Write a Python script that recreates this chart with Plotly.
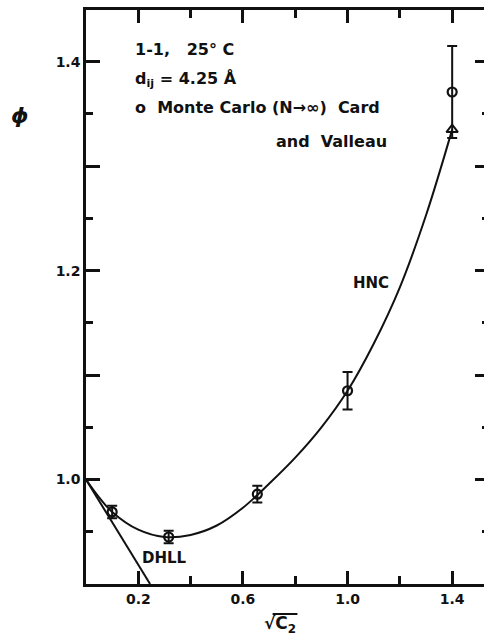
import plotly.graph_objects as go

# HNC theory curve
hnc_x = [0.0, 0.05, 0.1, 0.2, 0.3, 0.4, 0.5, 0.6, 0.7, 0.8, 0.9, 1.0, 1.1, 1.2, 1.3, 1.4]
hnc_y = [1.0, 0.983, 0.969, 0.952, 0.945, 0.947, 0.956, 0.973, 0.996, 1.021, 1.050, 1.085, 1.130, 1.184, 1.253, 1.335]

# DHLL limiting law line
dhll_x = [0.0, 0.245]
dhll_y = [1.0, 0.9]

# Monte Carlo (N -> infinity), Card and Valleau
mc_x = [0.1, 0.316, 0.655, 1.0, 1.4]
mc_y = [0.969, 0.945, 0.986, 1.085, 1.371]
mc_err = [0.006, 0.006, 0.008, 0.018, 0.044]

# HNC end marker
tri_x = [1.4]
tri_y = [1.335]

x_major = [0.2, 0.6, 1.0, 1.4]
x_major_text = ["0.2", "0.6", "1.0", "1.4"]
x_minor = [0.4, 0.8, 1.2]
y_major = [1.0, 1.1, 1.2, 1.3, 1.4]
y_major_text = ["1.0", "", "1.2", "", "1.4"]
y_minor = [0.95, 1.05, 1.15, 1.25, 1.35]

FONT = "DejaVu Sans"
ink = "#111111"

W, H = 492, 635
ML, MR, MT, MB = 86, 0, 10, 51

fig = go.Figure()
fig.add_trace(go.Scatter(x=hnc_x, y=hnc_y, mode="lines", line=dict(color=ink, width=2, shape="spline", smoothing=1.0),
                         showlegend=False, hoverinfo="skip"))
fig.add_trace(go.Scatter(x=dhll_x, y=dhll_y, mode="lines", line=dict(color=ink, width=2),
                         showlegend=False, hoverinfo="skip"))
fig.add_trace(go.Scatter(x=mc_x, y=mc_y, mode="markers",
                         marker=dict(symbol="circle-open", size=9, color=ink, line=dict(width=2.2, color=ink)),
                         error_y=dict(type="data", array=mc_err, visible=True, color=ink, thickness=2, width=5),
                         showlegend=False))
fig.add_trace(go.Scatter(x=tri_x, y=tri_y, mode="markers",
                         marker=dict(symbol="triangle-up-open", size=10, color=ink, line=dict(width=2, color=ink)),
                         showlegend=False))

tf = dict(family=FONT, size=16, color=ink)
ann = [
    dict(x=0.18, y=1.412, text="<b>1-1,   25° C</b>", xanchor="left"),
    dict(x=0.18, y=1.383, text="<b>d<sub>ij</sub> = 4.25 Å</b>", xanchor="left"),
    dict(x=0.18, y=1.356, text="<b>o  Monte Carlo (N→∞)  Card</b>", xanchor="left"),
    dict(x=1.158, y=1.324, text="<b>and  Valleau</b>", xanchor="right"),
]
for a in ann:
    fig.add_annotation(x=a["x"], y=a["y"], text=a["text"], xanchor=a["xanchor"], yanchor="middle",
                       showarrow=False, font=tf)
for x, y, t in [(1.09, 1.188, "HNC"), (0.30, 0.925, "DHLL")]:
    fig.add_annotation(x=x, y=y, text=f"<b>{t}</b>", xanchor="center", yanchor="middle",
                       showarrow=False, font=dict(family=FONT, size=15, color=ink))

pw = W - ML - MR
ph = H - MT - MB
def px_x(p):
    return (p - ML) / pw
def px_y(p):
    return (H - MB - p) / ph

fig.add_annotation(xref="paper", yref="paper", x=px_x(20), y=px_y(115), text="<i><b>ϕ</b></i>", showarrow=False,
                   font=dict(family=FONT, size=22, color=ink), xanchor="center", yanchor="middle")
fig.add_annotation(xref="paper", yref="paper", x=px_x(281), y=px_y(624), text="<b>√C<sub>2</sub></b>", showarrow=False,
                   font=dict(family=FONT, size=17, color=ink), xanchor="center", yanchor="middle")
# overline of the square root sign
fig.add_shape(type="line", xref="paper", yref="paper", x0=px_x(274), x1=px_x(299), y0=px_y(614), y1=px_y(614),
              line=dict(color=ink, width=2))

axis_common = dict(showgrid=False, zeroline=False, showline=True, linecolor=ink, linewidth=2.5,
                   mirror="ticks", ticks="inside", tickcolor=ink, tickwidth=2.5,
                   tickfont=dict(family=FONT, size=14, color=ink))

fig.update_xaxes(range=[0, pw / 263.5], tickmode="array", tickvals=x_major,
                 ticktext=[f"<b>{t}</b>" for t in x_major_text],
                 ticklen=13,
                 minor=dict(tickmode="array", tickvals=x_minor, ticks="inside", ticklen=8, tickwidth=2.5, tickcolor=ink),
                 **axis_common)
fig.update_yaxes(range=[0.9, 1.4495], tickmode="array", tickvals=y_major,
                 ticktext=[f"<b>{t}</b>" if t else "" for t in y_major_text],
                 ticklen=14,
                 minor=dict(tickmode="array", tickvals=y_minor, ticks="inside", ticklen=7, tickwidth=2.5, tickcolor=ink),
                 **axis_common)

fig.update_layout(width=W, height=H, margin=dict(l=ML, r=MR, t=MT, b=MB),
                  plot_bgcolor="white", paper_bgcolor="white", showlegend=False)

fig.write_html("out.html", config={"displayModeBar": False},
               post_script="document.body.style.margin='0';document.body.style.overflow='hidden';")
